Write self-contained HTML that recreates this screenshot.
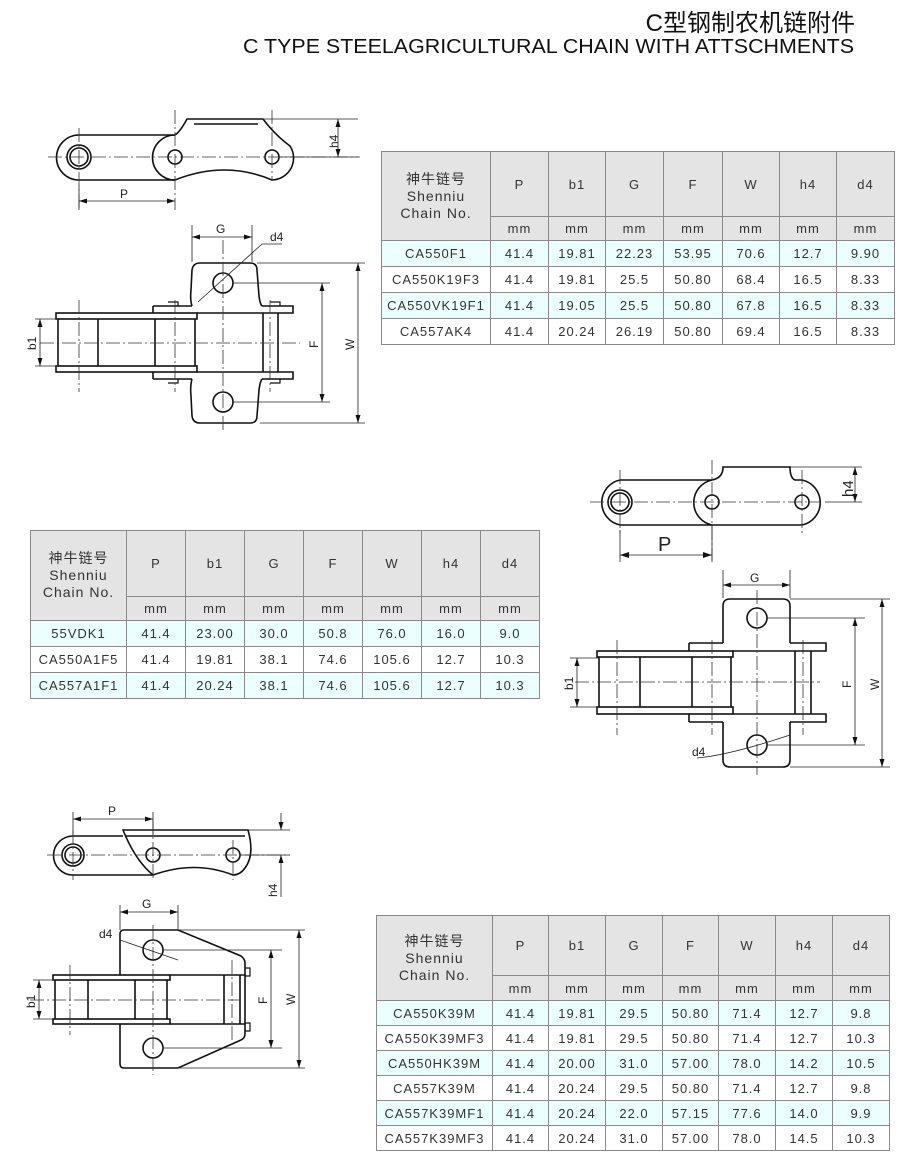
<!DOCTYPE html>
<html><head><meta charset="utf-8"><style>
html,body{margin:0;padding:0;background:#fff;}
body{width:900px;height:1165px;position:relative;overflow:hidden;font-family:"Liberation Sans","Noto Sans CJK SC",sans-serif;}
table{position:absolute;border-collapse:collapse;table-layout:fixed;color:#333;}
td{border:1px solid #8a8a8a;text-align:center;padding:0;font-size:13px;letter-spacing:1px;white-space:nowrap;}
tr.h td{background:#e4e4e4;}
tr.c td{background:#ebffff;}
tr.w td{background:#fff;}
td.n{font-size:14px;line-height:17px;letter-spacing:1px;}
svg{position:absolute;left:0;top:0;}
</style></head><body>
<svg width="900" height="1165" viewBox="0 0 900 1165" font-family="Liberation Sans, sans-serif">
<text x="855" y="31" font-size="24" text-anchor="end" fill="#111" font-family="Liberation Sans, Noto Sans CJK SC, sans-serif">C型钢制农机链附件</text>
<text x="243" y="53" font-size="20" fill="#111" textLength="611" lengthAdjust="spacingAndGlyphs">C TYPE STEELAGRICULTURAL CHAIN WITH ATTSCHMENTS</text>

<g fill="none" stroke="#111" stroke-width="1.6">
<path d="M79,135 H175 M79,180 H175"/>
<path d="M79,135 A22,22 0 0 0 79,180"/>
<circle cx="79" cy="157" r="12"/><circle cx="79" cy="157" r="9"/>
<path d="M175,135 A22,22 0 0 0 175,180 Q225,160 272,180 A22,22 0 0 0 290,146 Q275,135 263,119 H187 Q180,132 175,135"/>
<path d="M194,124 H258"/>
<rect x="168" y="150" width="14" height="14" rx="7"/><rect x="265" y="150" width="14" height="14" rx="7"/>
<rect x="56" y="313" width="141" height="6"/><rect x="56" y="366" width="141" height="6"/>
<path d="M58,319 V366 M98,319 V366 M155,319 V366 M195,319 V366"/>
<path d="M153,306 H192 M153,306 V313 M262,306 H293 V313 H197 M153,379 H192 M153,372 V379 M262,379 H293 V372 H197"/>
<path d="M192,306 Q190,300 191,290 L192,270 Q193,263 200,263 H250 Q257,263 257,270 L259,296 Q260,304 262,306"/>
<path d="M192,379 Q190,386 191,396 L192,416 Q193,423 200,423 H250 Q257,423 257,416 L259,390 Q260,382 262,379"/>
<path d="M263,313 V372 M278,313 V372"/>
<circle cx="223" cy="283" r="10"/><circle cx="223" cy="402" r="10"/>
<path d="M168,302 h10 v4 M270,302 h10 v4 M168,383 h10 v-4 M270,383 h10 v-4" stroke-width="1.2"/>

<path d="M620,480 H712 M620,525 H712"/>
<path d="M620,480 A23,23 0 0 0 620,525"/>
<circle cx="620" cy="502" r="12"/><circle cx="620" cy="502" r="9"/>
<path d="M712,480 A23,23 0 0 0 712,525 H802 A23,23 0 0 0 802,480 H795 Q790,478 790,467 H723 Q723,478 712,480"/>
<rect x="705" y="495" width="14" height="14" rx="7"/><rect x="795" y="495" width="14" height="14" rx="7"/>
<rect x="597" y="651" width="136" height="6"/><rect x="597" y="707" width="136" height="7"/>
<path d="M599,657 V707 M640,657 V707 M692,657 V707 M731,657 V707"/>
<path d="M689,643 H723 M689,643 V651 M790,643 H826 V651 H733 M689,722 H723 M689,714 V722 M790,722 H826 V714 H733"/>
<path d="M723,643 V606 Q723,599 730,599 H783 Q790,599 790,606 V643"/>
<path d="M723,722 V760 Q723,767 730,767 H783 Q790,767 790,760 V722"/>
<path d="M795,651 V714 M811,651 V714"/>
<circle cx="757" cy="618" r="10"/><circle cx="757" cy="745" r="10"/>

<path d="M73,836 H123 M73,875 H153"/>
<path d="M73,836 A19.5,19.5 0 0 0 73,875"/>
<circle cx="73" cy="855" r="11"/><circle cx="73" cy="855" r="8"/>
<path d="M123,830 H248 Q255,855 245,868 Q240,875 233,875 Q195,860 153,875 Q135,860 123,830 Z"/>
<path d="M126,836 H245"/>
<rect x="146" y="848" width="14" height="14" rx="7"/><rect x="226" y="848" width="14" height="14" rx="7"/>
<path d="M120,975 V934 Q120,930 124,930 H178 L241,956 Q245,959 245,963 V1034 Q245,1038 241,1040 L178,1068 H124 Q120,1068 120,1064 V1024"/>
<rect x="53" y="975" width="117" height="5"/><rect x="53" y="1019" width="117" height="5"/>
<path d="M55,980 V1019 M88,980 V1019 M135,980 V1019 M167,980 V1019"/>
<path d="M170,975 H245 M170,1024 H245 M224,975 V1024 M240,975 V1024"/>
<path d="M245,968 h5 v8 h-5 M245,1023 h5 v8 h-5" stroke-width="1.2"/>
<circle cx="153" cy="950" r="10"/><circle cx="153" cy="1048" r="10"/>
</g>

<g stroke="#333" stroke-width="0.8" stroke-dasharray="14,3,2,3" fill="none">
<path d="M48,157 H360 M79,128 V210 M175,110 V210 M272,110 V180"/>
<path d="M40,343 H300 M79,300 V392 M175,300 V392 M223,240 V430 M270,300 V392"/>
<path d="M590,502 H820 M620,470 V535 M712,460 V560 M802,470 V535"/>
<path d="M575,682 H820 M617,640 V735 M712,640 V735 M757,590 V775 M803,640 V735"/>
<path d="M47,855 H290 M73,830 V880 M153,820 V880 M233,840 V880"/>
<path d="M30,1000 H240 M70,965 V1035 M153,925 V1075 M232,960 V1040"/>
</g>

<g stroke="#222" stroke-width="0.8" fill="none">
<path d="M79,185 V210 M79,201 H175 M263,119 H358 M280,157 H358 M338,119 V157"/>
<path d="M192,225 V262 M252,225 V262 M192,237 H252 M257,263 H365 M233,283 H330 M233,402 H330 M260,423 H365 M322,283 V402 M358,263 V423 M35,319 H58 M35,366 H58 M40,319 V366 M198,302 L262,244 H282"/>
<path d="M620,530 V562 M712,525 V562 M620,555 H712 M790,467 H862 M825,502 H862 M855,467 V502"/>
<path d="M723,570 V598 M790,570 V598 M723,585 H790 M790,599 H890 M767,618 H865 M767,745 H865 M790,767 H890 M855,618 V745 M882,599 V767 M570,658 H599 M570,707 H599 M577,658 V707 M697,758 Q730,755 790,735"/>
<path d="M73,812 V835 M153,812 V835 M73,819 H153 M248,830 H290 M240,855 H290 M281,813 V830 M281,855 V897"/>
<path d="M120,905 V930 M178,905 V930 M120,912 H178 M178,930 H305 M163,950 H282 M163,1048 H282 M178,1068 H305 M271,950 V1048 M299,930 V1068 M33,980 H55 M33,1019 H55 M39,980 V1019 M120,940 L178,960"/>
</g>
<g fill="#111">
<path d="M79,201 l8,-2.5 v5z M175,201 l-8,-2.5 v5z M338,119 l-2.5,8 h5z M338,157 l-2.5,-8 h5z"/>
<path d="M192,237 l8,-2.5 v5z M252,237 l-8,-2.5 v5z M322,283 l-2.5,8 h5z M322,402 l-2.5,-8 h5z M358,263 l-2.5,8 h5z M358,423 l-2.5,-8 h5z M40,319 l-2.5,8 h5z M40,366 l-2.5,-8 h5z"/>
<path d="M620,555 l9,-3 v6z M712,555 l-9,-3 v6z M855,467 l-2.5,8 h5z M855,502 l-2.5,-8 h5z"/>
<path d="M723,585 l8,-2.5 v5z M790,585 l-8,-2.5 v5z M855,618 l-2.5,8 h5z M855,745 l-2.5,-8 h5z M882,599 l-2.5,8 h5z M882,767 l-2.5,-8 h5z M577,658 l-2.5,8 h5z M577,707 l-2.5,-8 h5z"/>
<path d="M73,819 l8,-2.5 v5z M153,819 l-8,-2.5 v5z M281,830 l-2.5,-8 h5z M281,855 l-2.5,8 h5z"/>
<path d="M120,912 l8,-2.5 v5z M178,912 l-8,-2.5 v5z M271,950 l-2.5,8 h5z M271,1048 l-2.5,-8 h5z M299,930 l-2.5,8 h5z M299,1068 l-2.5,-8 h5z M39,980 l-2.5,8 h5z M39,1019 l-2.5,-8 h5z"/>
</g>
<g font-size="12" fill="#222">
<text x="120" y="198">P</text>
<text x="338" y="148" transform="rotate(-90 338 148)">h4</text>
<text x="216" y="233">G</text>
<text x="270" y="241">d4</text>
<text x="318" y="348" transform="rotate(-90 318 348)">F</text>
<text x="354" y="350" transform="rotate(-90 354 350)">W</text>
<text x="36" y="350" transform="rotate(-90 36 350)">b1</text>
<text x="658" y="551" font-size="20">P</text>
<text x="853" y="497" font-size="15" transform="rotate(-90 853 497)">h4</text>
<text x="750" y="582">G</text>
<text x="851" y="688" transform="rotate(-90 851 688)">F</text>
<text x="879" y="690" transform="rotate(-90 879 690)">W</text>
<text x="573" y="690" transform="rotate(-90 573 690)">b1</text>
<text x="692" y="756">d4</text>
<text x="108" y="815">P</text>
<text x="277" y="897" transform="rotate(-90 277 897)">h4</text>
<text x="142" y="908">G</text>
<text x="99" y="938">d4</text>
<text x="267" y="1004" transform="rotate(-90 267 1004)">F</text>
<text x="295" y="1005" transform="rotate(-90 295 1005)">W</text>
<text x="35" y="1008" transform="rotate(-90 35 1008)">b1</text>
</g>
</svg>

<table style="left:381px;top:151px;width:513px;">
<colgroup><col style="width:109px"><col style="width:58px"><col style="width:57px"><col style="width:58px"><col style="width:59px"><col style="width:57px"><col style="width:57px"><col style="width:58px"></colgroup>
<tr class="h" style="height:65px"><td rowspan="2" class="n">神牛链号<br>Shenniu<br>Chain No.</td><td>P</td><td>b1</td><td>G</td><td>F</td><td>W</td><td>h4</td><td>d4</td></tr>
<tr class="h" style="height:24px"><td>mm</td><td>mm</td><td>mm</td><td>mm</td><td>mm</td><td>mm</td><td>mm</td></tr>
<tr class="c" style="height:26px"><td>CA550F1</td><td>41.4</td><td>19.81</td><td>22.23</td><td>53.95</td><td>70.6</td><td>12.7</td><td>9.90</td></tr>
<tr class="w" style="height:26px"><td>CA550K19F3</td><td>41.4</td><td>19.81</td><td>25.5</td><td>50.80</td><td>68.4</td><td>16.5</td><td>8.33</td></tr>
<tr class="c" style="height:26px"><td>CA550VK19F1</td><td>41.4</td><td>19.05</td><td>25.5</td><td>50.80</td><td>67.8</td><td>16.5</td><td>8.33</td></tr>
<tr class="w" style="height:26px"><td>CA557AK4</td><td>41.4</td><td>20.24</td><td>26.19</td><td>50.80</td><td>69.4</td><td>16.5</td><td>8.33</td></tr>
</table>

<table style="left:30px;top:530px;width:509px;">
<colgroup><col style="width:96px"><col style="width:59px"><col style="width:59px"><col style="width:59px"><col style="width:59px"><col style="width:59px"><col style="width:59px"><col style="width:59px"></colgroup>
<tr class="h" style="height:66px"><td rowspan="2" class="n">神牛链号<br>Shenniu<br>Chain No.</td><td>P</td><td>b1</td><td>G</td><td>F</td><td>W</td><td>h4</td><td>d4</td></tr>
<tr class="h" style="height:24px"><td>mm</td><td>mm</td><td>mm</td><td>mm</td><td>mm</td><td>mm</td><td>mm</td></tr>
<tr class="c" style="height:26px"><td>55VDK1</td><td>41.4</td><td>23.00</td><td>30.0</td><td>50.8</td><td>76.0</td><td>16.0</td><td>9.0</td></tr>
<tr class="w" style="height:26px"><td>CA550A1F5</td><td>41.4</td><td>19.81</td><td>38.1</td><td>74.6</td><td>105.6</td><td>12.7</td><td>10.3</td></tr>
<tr class="c" style="height:26px"><td>CA557A1F1</td><td>41.4</td><td>20.24</td><td>38.1</td><td>74.6</td><td>105.6</td><td>12.7</td><td>10.3</td></tr>
</table>

<table style="left:376px;top:915px;width:513px;">
<colgroup><col style="width:116px"><col style="width:56px"><col style="width:57px"><col style="width:57px"><col style="width:56px"><col style="width:57px"><col style="width:57px"><col style="width:57px"></colgroup>
<tr class="h" style="height:60px"><td rowspan="2" class="n">神牛链号<br>Shenniu<br>Chain No.</td><td>P</td><td>b1</td><td>G</td><td>F</td><td>W</td><td>h4</td><td>d4</td></tr>
<tr class="h" style="height:25px"><td>mm</td><td>mm</td><td>mm</td><td>mm</td><td>mm</td><td>mm</td><td>mm</td></tr>
<tr class="c" style="height:25px"><td>CA550K39M</td><td>41.4</td><td>19.81</td><td>29.5</td><td>50.80</td><td>71.4</td><td>12.7</td><td>9.8</td></tr>
<tr class="w" style="height:25px"><td>CA550K39MF3</td><td>41.4</td><td>19.81</td><td>29.5</td><td>50.80</td><td>71.4</td><td>12.7</td><td>10.3</td></tr>
<tr class="c" style="height:25px"><td>CA550HK39M</td><td>41.4</td><td>20.00</td><td>31.0</td><td>57.00</td><td>78.0</td><td>14.2</td><td>10.5</td></tr>
<tr class="w" style="height:25px"><td>CA557K39M</td><td>41.4</td><td>20.24</td><td>29.5</td><td>50.80</td><td>71.4</td><td>12.7</td><td>9.8</td></tr>
<tr class="c" style="height:25px"><td>CA557K39MF1</td><td>41.4</td><td>20.24</td><td>22.0</td><td>57.15</td><td>77.6</td><td>14.0</td><td>9.9</td></tr>
<tr class="w" style="height:25px"><td>CA557K39MF3</td><td>41.4</td><td>20.24</td><td>31.0</td><td>57.00</td><td>78.0</td><td>14.5</td><td>10.3</td></tr>
</table>
</body></html>
